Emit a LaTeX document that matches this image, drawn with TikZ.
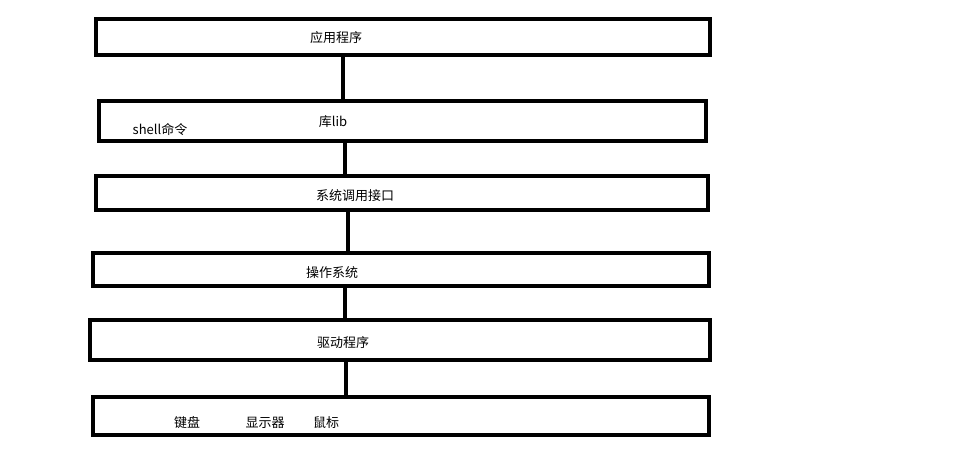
\documentclass[tikz,border=0pt]{standalone}
\usepackage{fontspec}
\setmainfont{Noto Sans CJK SC}
\begin{document}
\begin{tikzpicture}[x=1pt,y=-1pt,
  layer/.style={draw,line width=4pt,inner sep=0pt,outer sep=0pt,anchor=north west},
  lbl/.style={font=\fontsize{13}{13}\selectfont,inner sep=0pt},
  conn/.style={line width=4pt}]
\useasboundingbox (0,0) rectangle (957,460);
\node[layer,minimum width=614pt,minimum height=36pt] (b1) at (96,19) {};
\node[layer,minimum width=607pt,minimum height=40pt] (b2) at (99,101) {};
\node[layer,minimum width=612pt,minimum height=34pt] (b3) at (96,176) {};
\node[layer,minimum width=616pt,minimum height=33pt] (b4) at (93,253) {};
\node[layer,minimum width=620pt,minimum height=40pt] (b5) at (90,320) {};
\node[layer,minimum width=616pt,minimum height=38pt] (b6) at (93,397) {};
\node[lbl] (t1) at (336,38) {应用程序};
\node[lbl] (t2) at (333,122) {库lib};
\node[lbl] (t2b) at (160,130) {shell命令};
\node[lbl] (t3) at (355,196) {系统调用接口};
\node[lbl] (t4) at (332,273) {操作系统};
\node[lbl] (t5) at (343,343) {驱动程序};
\node[lbl] (t6a) at (187,423) {键盘};
\node[lbl] (t6b) at (265,423) {显示器};
\node[lbl] (t6c) at (326,423) {鼠标};
\coordinate (c1) at (343,0);
\coordinate (c2) at (345,0);
\coordinate (c3) at (348,0);
\coordinate (c4) at (345,0);
\coordinate (c5) at (346,0);
\draw[conn] (b1.south -| c1) -- (b2.north -| c1);
\draw[conn] (b2.south -| c2) -- (b3.north -| c2);
\draw[conn] (b3.south -| c3) -- (b4.north -| c3);
\draw[conn] (b4.south -| c4) -- (b5.north -| c4);
\draw[conn] (b5.south -| c5) -- (b6.north -| c5);
\end{tikzpicture}
\end{document}
